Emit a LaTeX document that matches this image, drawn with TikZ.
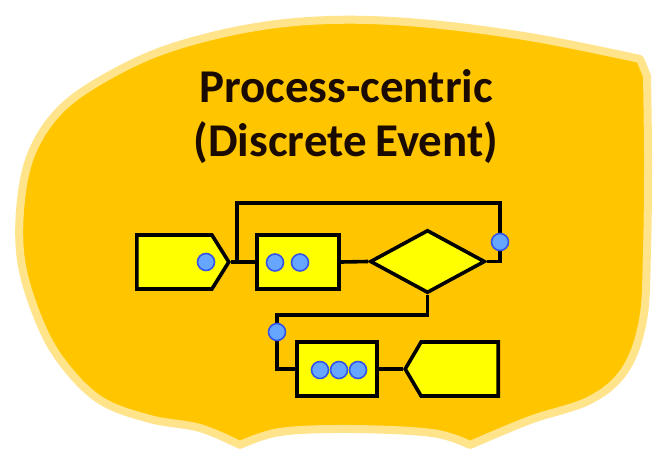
\documentclass[tikz,border=0pt]{standalone}
\usepackage{fontspec}
\setmainfont{Carlito}
\usepackage{tikz}
\usetikzlibrary{shapes.geometric,shapes.symbols}
\definecolor{blobfill}{RGB}{255,198,0}
\definecolor{blobrim}{RGB}{255,228,140}
\definecolor{partfill}{RGB}{255,255,0}
\definecolor{dotfill}{RGB}{102,166,255}
\definecolor{dotrim}{RGB}{52,84,232}
\definecolor{titleink}{RGB}{26,10,0}
\tikzset{
    flowline/.style={line width=3.6bp, draw=black},
    partbox/.style={rectangle, draw=black, line width=3.6bp, fill=partfill, inner sep=0pt},
    tagbox/.style={signal, draw=black, line width=3.6bp, fill=partfill, inner sep=0pt,
        minimum height=54bp},
    titletext/.style={font=\fontsize{47bp}{56bp}\selectfont\bfseries, text=titleink, anchor=base}
}
\newcommand{\tokendot}[1]{
    \draw[fill=dotfill, draw=dotrim, line width=1.6bp] (#1) circle[radius=8.5bp];
}

\begin{document}
\begin{tikzpicture}[x=1bp, y=-1bp]
        \useasboundingbox[fill=white] (0,0) rectangle (655,457);
        % backdrop
        \draw[line width=8bp, draw=blobrim, fill=blobfill, line join=round]
            plot[smooth, tension=0.6] coordinates {(240,445) (200,428) (150,419) (100,400) (62,362)
                (38,318) (21,260) (21,200) (33,150) (62,108) (110,75) (170,48) (250,28) (330,20)
                (420,23) (530,37) (640,59)}
            -- plot[smooth, tension=0.6] coordinates {(647,76) (648,160) (647,250) (643,320)
                (625,370) (590,400) (530,420) (470,445)}
            -- plot[smooth, tension=0.6] coordinates {(470,445) (432,433) (350,429) (280,432) (240,445)}
            -- cycle;
        \node[titletext] (titletop) at (346,103) {Process-centric};
        \node[titletext] (titlebot) at (346,157) {(Discrete\hspace{-2bp} Event)};

        \node[tagbox, signal to=east, signal pointer angle=116, minimum width=92bp, anchor=west] (arrive) at (135,262) {};
        \node[partbox, minimum width=82bp, minimum height=54bp] (server) at (298,262) {};
        \node[diamond, draw=black, line width=3.6bp, fill=partfill, inner sep=0pt,
            minimum width=115bp, minimum height=63bp] (choice) at (427.5,261.5) {};
        \node[partbox, minimum width=80bp, minimum height=54bp] (queue) at (337,369) {};
        \node[tagbox, signal to=west, signal pointer angle=119, minimum width=93bp, anchor=east] (depart) at (500,369) {};

        \coordinate (loopR) at (500,203);
        \coordinate (loopL) at (237,203);
        \coordinate (turnL) at (277,315);

        \draw[flowline] (arrive.east) -- (server.west);
        \draw[flowline] (server.east) -- (choice.west);
        \draw[flowline] (choice.east) -| (loopR) -- (loopL) -- (loopL |- arrive.east);
        \draw[flowline] (choice.south) |- (turnL) |- (queue.west);
        \draw[flowline] (queue.east) -- (depart.west);

        \tokendot{206,262}
        \tokendot{275,262.5}
        \tokendot{300,262.5}
        \tokendot{500,242}
        \tokendot{277,332}
        \tokendot{320,370}
        \tokendot{339,370}
        \tokendot{358,370}
    \end{tikzpicture}
\end{document}
